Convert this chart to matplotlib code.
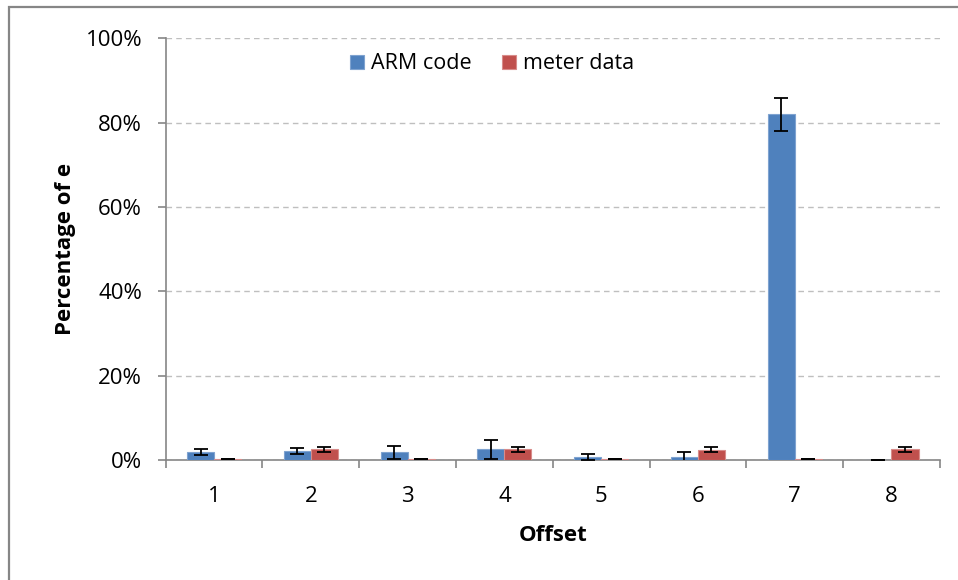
import matplotlib
matplotlib.use("Agg")
import matplotlib.pyplot as plt
import numpy as np
from matplotlib.ticker import FixedLocator, PercentFormatter

categories = ["1", "2", "3", "4", "5", "6", "7", "8"]
arm_code = [1.8, 2.1, 1.8, 2.5, 0.8, 0.7, 82.0, 0.1]
arm_err = [0.7, 0.7, 1.5, 2.2, 0.7, 1.1, 3.9, 0.0]
meter_data = [0.3, 2.5, 0.2, 2.5, 0.2, 2.4, 0.2, 2.5]
meter_err = [0.0, 0.5, 0.0, 0.5, 0.0, 0.6, 0.0, 0.5]
y_ticks = [0, 20, 40, 60, 80, 100]

plt.rcParams['font.family'] = ['Open Sans', 'DejaVu Sans']

fig = plt.figure(figsize=(9.58, 5.8), dpi=100)
ax = fig.add_axes([0.173, 0.207, 0.808, 0.727])

x = np.arange(len(categories))
w = 0.28
blue = "#4F81BD"
red = "#C0504D"
ax.bar(x - w/2, arm_code, w, color=blue, edgecolor="#7FA3D0", linewidth=0.8,
       yerr=arm_err, error_kw=dict(ecolor="black", elinewidth=1.3, capsize=5, capthick=1.3),
       label="ARM code", zorder=3)
ax.bar(x + w/2, meter_data, w, color=red, edgecolor="#D88C8A", linewidth=0.8,
       yerr=meter_err, error_kw=dict(ecolor="black", elinewidth=1.3, capsize=5, capthick=1.3),
       label="meter data", zorder=3)

ax.set_xlim(-0.5, len(categories) - 0.5)
ax.set_ylim(0, 100)
ax.set_yticks(y_ticks)
ax.yaxis.set_major_formatter(PercentFormatter(decimals=0))
ax.set_xticks(x)
ax.set_xticklabels(categories)
ax.xaxis.set_minor_locator(FixedLocator(np.arange(len(categories) + 1) - 0.5))
ax.tick_params(axis='x', which='major', length=0, pad=19, labelsize=16)
ax.tick_params(axis='x', which='minor', length=6, color="#868686", width=1.2, direction='out')
ax.tick_params(axis='y', length=6, color="#868686", width=1.2, labelsize=16, pad=11)

ax.grid(axis='y', linestyle=(0, (4, 3)), color="#BFBFBF", linewidth=1.0, zorder=0)
ax.set_axisbelow(True)
for s in ['top', 'right']:
    ax.spines[s].set_visible(False)
for s in ['left', 'bottom']:
    ax.spines[s].set_color("#868686")
    ax.spines[s].set_linewidth(1.2)

ax.set_ylabel("Percentage of e", fontsize=16, fontweight='bold', labelpad=7)
ax.set_xlabel("Offset", fontsize=16, fontweight='bold', labelpad=13)

leg = ax.legend(loc='upper center', bbox_to_anchor=(0.422, 1.01), ncol=2, frameon=False,
                fontsize=15.5, handlelength=0.65, handleheight=0.65, handletextpad=0.33,
                columnspacing=1.4)

fig.patches.append(plt.Rectangle((8.5 / 958, -0.05), 1.1, 1 - 6.5 / 580 + 0.05,
                                 transform=fig.transFigure, fill=False,
                                 edgecolor="#868686", linewidth=1.6))

fig.savefig("out.png", dpi=100)
